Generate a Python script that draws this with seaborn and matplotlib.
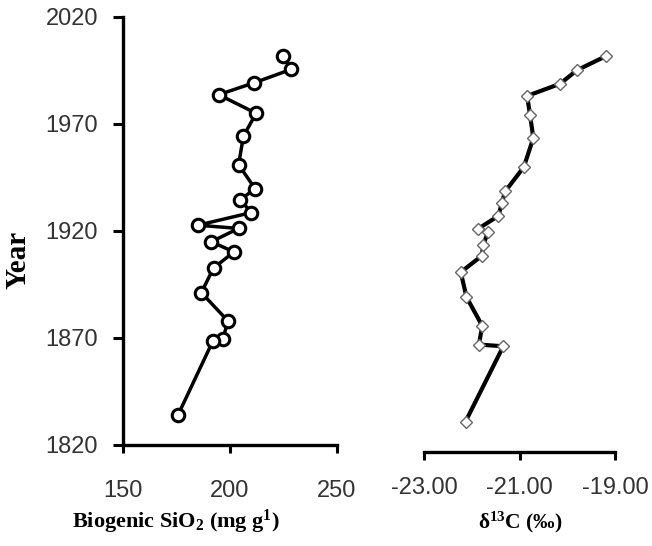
import matplotlib
matplotlib.use("Agg")
import matplotlib.pyplot as plt
import seaborn as sns
import pandas as pd
from matplotlib.ticker import FormatStrFormatter

# ---- data ----
years = [2002.0, 1995.5, 1989.3, 1983.7, 1975.0, 1964.4, 1951.0, 1939.8, 1934.6,
         1928.6, 1922.7, 1921.2, 1915.0, 1910.2, 1902.7, 1891.2, 1878.0,
         1869.4, 1868.6, 1834.0]
bsio2 = [224.9, 228.5, 211.4, 194.7, 212.2, 206.3, 204.0, 211.7, 204.9,
         209.9, 185.0, 204.0, 191.3, 201.8, 192.3, 186.6, 199.0,
         196.7, 192.0, 175.7]
d13c = [-19.19, -19.80, -20.15, -20.84, -20.78, -20.71, -20.91, -21.30, -21.37,
        -21.44, -21.86, -21.66, -21.76, -21.79, -22.23, -22.11, -21.78,
        -21.85, -21.34, -22.13]
year_ticks = [1820, 1870, 1920, 1970, 2020]
sio2_ticks = [150, 200, 250]
d13c_ticks = [-23.0, -21.0, -19.0]

df = pd.DataFrame({"Year": years, "SiO2": bsio2, "d13C": d13c})

sns.set_theme(style="white")
plt.rcParams["font.family"] = ["Liberation Serif", "DejaVu Serif"]
plt.rcParams["mathtext.fontset"] = "custom"
plt.rcParams["mathtext.rm"] = "Liberation Serif:bold"
plt.rcParams["mathtext.bf"] = "Liberation Serif:bold"
plt.rcParams["mathtext.it"] = "Liberation Serif:bold:italic"

W, H = 652, 546
fig = plt.figure(figsize=(W / 100, H / 100), dpi=100)
ax1 = fig.add_axes([123 / W, 1 - 445 / H, 214 / W, 428 / H])
ax2 = fig.add_axes([424 / W, 1 - 452 / H, 191 / W, 435 / H])

sns.lineplot(data=df, x="SiO2", y="Year", sort=False, estimator=None, ax=ax1,
             color="black", linewidth=2.5, marker="o", markersize=9,
             markerfacecolor="white", markeredgecolor="black",
             markeredgewidth=2.2)
sns.lineplot(data=df, x="d13C", y="Year", sort=False, estimator=None, ax=ax2,
             color="black", linewidth=3.0, marker="D", markersize=6.5,
             markerfacecolor="white", markeredgecolor="#666666",
             markeredgewidth=1.0)

tick_family = ["Liberation Sans", "DejaVu Sans"]
tick_size = 17

for ax in (ax1, ax2):
    ax.set_ylim(1820, 2020)
    ax.set_facecolor("white")
    for s in ax.spines.values():
        s.set_color("black")
        s.set_linewidth(2.4)
    ax.spines["top"].set_visible(False)
    ax.spines["right"].set_visible(False)

ax1.set_xlim(150, 250)
ax1.set_xticks(sio2_ticks)
ax1.set_yticks(year_ticks)
ax1.tick_params(axis="x", direction="out", length=6, width=2.2, color="black",
                pad=19, bottom=True)
ax1.tick_params(axis="y", direction="out", length=7, width=2.2, color="black",
                pad=11, left=True)
for lab in ax1.get_xticklabels() + ax1.get_yticklabels():
    lab.set_fontfamily(tick_family)
    lab.set_fontsize(tick_size)
    lab.set_color("#333333")

ax1.set_xlabel(r"Biogenic SiO$_{\mathbf{2}}$ (mg g$^{\mathbf{1}}$)", fontsize=16,
               fontweight="bold", color="black")
ax1.xaxis.set_label_coords((176 - 123) / 214, (445 - 522) / 428)
ax1.xaxis.label.set_va("center")
ax1.set_ylabel("Year", fontsize=21, fontweight="bold", color="black")
ax1.yaxis.set_label_coords((18 - 123) / 214, (445 - 260) / 428)
ax1.yaxis.label.set_va("center")

ax2.set_xlim(-23, -19)
ax2.set_xticks(d13c_ticks)
ax2.xaxis.set_major_formatter(FormatStrFormatter("%.2f"))
ax2.set_yticks([])
ax2.spines["left"].set_visible(False)
ax2.tick_params(axis="x", direction="out", length=6, width=2.2, color="black",
                pad=12, bottom=True)
for lab in ax2.get_xticklabels():
    lab.set_fontfamily(tick_family)
    lab.set_fontsize(tick_size)
    lab.set_color("#333333")
ax2.set_xlabel(r"$\mathbf{\delta}^{\mathbf{13}}$C (‰)", fontsize=15.5,
               fontweight="bold", color="black")
ax2.xaxis.set_label_coords((520 - 424) / 191, (452 - 522) / 435)
ax2.xaxis.label.set_va("center")
ax2.set_ylabel("")

fig.savefig("out.png", dpi=100, facecolor="white")
